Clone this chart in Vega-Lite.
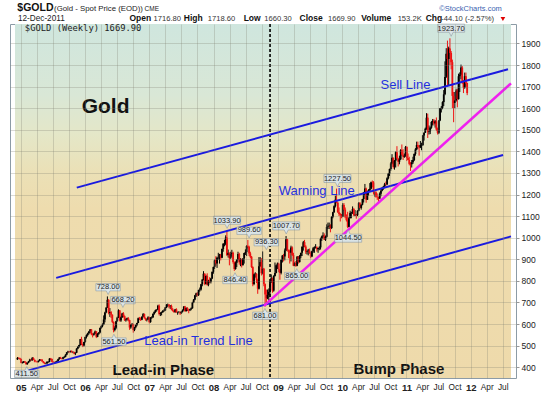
{
"$schema":"https://vega.github.io/schema/vega-lite/v6.json",
"width":506,"height":354,
"autosize":{"type":"none"},
"padding":{"left":10,"top":24,"right":34,"bottom":15},
"background":"#ffffff",
"config":{"view":{"stroke":"#8c9ba6","strokeWidth":1},"font":"Liberation Sans","axisY":{"tickCount":16,"labelOverlap":false,"format":"d"}},
"datasets":{
"bg":[{"d":"2004-11-29","d2":"2012-08-17","v":350,"v2":1990}],
"candles":[
{"d":"2004-12-13","o":436,"h":447,"l":434,"c":443},{"d":"2004-12-20","o":443,"h":446,"l":439,"c":442},{"d":"2004-12-27","o":442,"h":444,"l":434,"c":438},
{"d":"2005-01-03","o":438,"h":440,"l":418,"c":420},{"d":"2005-01-10","o":420,"h":426,"l":417,"c":422},{"d":"2005-01-17","o":422,"h":428,"l":419,"c":427},{"d":"2005-01-24","o":427,"h":429,"l":420,"c":422},{"d":"2005-01-31","o":422,"h":425,"l":412,"c":414},
{"d":"2005-02-07","o":414,"h":422,"l":411.5,"c":421},{"d":"2005-02-14","o":421,"h":429,"l":419,"c":427},{"d":"2005-02-21","o":427,"h":439,"l":425,"c":435},{"d":"2005-02-28","o":435,"h":437,"l":430,"c":432},
{"d":"2005-03-07","o":432,"h":447,"l":430,"c":443},{"d":"2005-03-14","o":443,"h":446,"l":433,"c":434},{"d":"2005-03-21","o":434,"h":436,"l":423,"c":427},{"d":"2005-03-28","o":427,"h":431,"l":423,"c":426},
{"d":"2005-04-04","o":426,"h":429,"l":420,"c":424},{"d":"2005-04-11","o":424,"h":431,"l":422,"c":430},{"d":"2005-04-18","o":430,"h":438,"l":428,"c":436},{"d":"2005-04-25","o":436,"h":438,"l":430,"c":435},
{"d":"2005-05-02","o":435,"h":437,"l":425,"c":427},{"d":"2005-05-09","o":427,"h":429,"l":418,"c":421},{"d":"2005-05-16","o":421,"h":423,"l":414,"c":418},{"d":"2005-05-23","o":418,"h":421,"l":414,"c":418},{"d":"2005-05-30","o":418,"h":427,"l":414,"c":425},
{"d":"2005-06-06","o":425,"h":428,"l":420,"c":425},{"d":"2005-06-13","o":425,"h":442,"l":423,"c":440},{"d":"2005-06-20","o":440,"h":443,"l":433,"c":438},{"d":"2005-06-27","o":438,"h":440,"l":423,"c":425},
{"d":"2005-07-04","o":425,"h":428,"l":417,"c":422},{"d":"2005-07-11","o":422,"h":426,"l":418,"c":421},{"d":"2005-07-18","o":421,"h":427,"l":418,"c":425},{"d":"2005-07-25","o":425,"h":431,"l":422,"c":429},
{"d":"2005-08-01","o":429,"h":439,"l":427,"c":437},{"d":"2005-08-08","o":437,"h":447,"l":435,"c":445},{"d":"2005-08-15","o":445,"h":448,"l":438,"c":441},{"d":"2005-08-22","o":441,"h":443,"l":436,"c":439},{"d":"2005-08-29","o":439,"h":448,"l":436,"c":446},
{"d":"2005-09-05","o":446,"h":452,"l":442,"c":448},{"d":"2005-09-12","o":448,"h":460,"l":446,"c":458},{"d":"2005-09-19","o":458,"h":470,"l":455,"c":469},{"d":"2005-09-26","o":469,"h":476,"l":465,"c":473},
{"d":"2005-10-03","o":473,"h":475,"l":467,"c":471},{"d":"2005-10-10","o":471,"h":477,"l":468,"c":474},{"d":"2005-10-17","o":474,"h":478,"l":467,"c":470},{"d":"2005-10-24","o":470,"h":474,"l":465,"c":470},{"d":"2005-10-31","o":470,"h":472,"l":460,"c":463},
{"d":"2005-11-07","o":463,"h":469,"l":456,"c":467},{"d":"2005-11-14","o":467,"h":488,"l":466,"c":486},{"d":"2005-11-21","o":486,"h":497,"l":483,"c":495},{"d":"2005-11-28","o":495,"h":504,"l":490,"c":503},
{"d":"2005-12-05","o":503,"h":531,"l":500,"c":530},{"d":"2005-12-12","o":530,"h":541,"l":502,"c":506},{"d":"2005-12-19","o":506,"h":509,"l":493,"c":501},{"d":"2005-12-26","o":501,"h":518,"l":496,"c":517},
{"d":"2006-01-02","o":517,"h":542,"l":514,"c":540},{"d":"2006-01-09","o":540,"h":552,"l":533,"c":549},{"d":"2006-01-16","o":549,"h":560,"l":543,"c":557},{"d":"2006-01-23","o":557,"h":568,"l":552,"c":566},{"d":"2006-01-30","o":566,"h":577,"l":558,"c":575},
{"d":"2006-02-06","o":575,"h":577,"l":548,"c":553},{"d":"2006-02-13","o":553,"h":558,"l":538,"c":550},{"d":"2006-02-20","o":550,"h":560,"l":546,"c":555},{"d":"2006-02-27","o":555,"h":570,"l":553,"c":566},
{"d":"2006-03-06","o":566,"h":567,"l":535,"c":541},{"d":"2006-03-13","o":541,"h":558,"l":539,"c":555},{"d":"2006-03-20","o":555,"h":562,"l":550,"c":561},{"d":"2006-03-27","o":561,"h":584,"l":557,"c":582},
{"d":"2006-04-03","o":582,"h":594,"l":578,"c":590},{"d":"2006-04-10","o":590,"h":603,"l":585,"c":598},{"d":"2006-04-17","o":598,"h":640,"l":597,"c":621},{"d":"2006-04-24","o":621,"h":657,"l":608,"c":654},
{"d":"2006-05-01","o":654,"h":678,"l":650,"c":676},{"d":"2006-05-08","o":676,"h":728,"l":675,"c":712},{"d":"2006-05-15","o":712,"h":715,"l":645,"c":651},{"d":"2006-05-22","o":651,"h":674,"l":633,"c":655},{"d":"2006-05-29","o":655,"h":660,"l":628,"c":643},
{"d":"2006-06-05","o":643,"h":645,"l":605,"c":610},{"d":"2006-06-12","o":610,"h":612,"l":561.5,"c":572},{"d":"2006-06-19","o":572,"h":590,"l":566,"c":583},{"d":"2006-06-26","o":583,"h":615,"l":576,"c":613},
{"d":"2006-07-03","o":613,"h":634,"l":611,"c":630},{"d":"2006-07-10","o":630,"h":668.2,"l":628,"c":663},{"d":"2006-07-17","o":663,"h":665,"l":612,"c":616},{"d":"2006-07-24","o":616,"h":636,"l":610,"c":632},{"d":"2006-07-31","o":632,"h":652,"l":628,"c":649},
{"d":"2006-08-07","o":649,"h":655,"l":630,"c":636},{"d":"2006-08-14","o":636,"h":640,"l":614,"c":618},{"d":"2006-08-21","o":618,"h":627,"l":611,"c":621},{"d":"2006-08-28","o":621,"h":630,"l":616,"c":627},
{"d":"2006-09-04","o":627,"h":632,"l":612,"c":618},{"d":"2006-09-11","o":618,"h":620,"l":573,"c":584},{"d":"2006-09-18","o":584,"h":600,"l":578,"c":598},{"d":"2006-09-25","o":598,"h":605,"l":592,"c":600},
{"d":"2006-10-02","o":600,"h":602,"l":560,"c":572},{"d":"2006-10-09","o":572,"h":587,"l":567,"c":585},{"d":"2006-10-16","o":585,"h":598,"l":580,"c":596},{"d":"2006-10-23","o":596,"h":606,"l":590,"c":605},{"d":"2006-10-30","o":605,"h":630,"l":604,"c":627},
{"d":"2006-11-06","o":627,"h":633,"l":618,"c":626},{"d":"2006-11-13","o":626,"h":631,"l":614,"c":620},{"d":"2006-11-20","o":620,"h":636,"l":618,"c":634},{"d":"2006-11-27","o":634,"h":651,"l":632,"c":646},
{"d":"2006-12-04","o":646,"h":649,"l":625,"c":627},{"d":"2006-12-11","o":627,"h":630,"l":615,"c":620},{"d":"2006-12-18","o":620,"h":626,"l":612,"c":621},{"d":"2006-12-25","o":621,"h":636,"l":618,"c":632},
{"d":"2007-01-01","o":632,"h":634,"l":603,"c":609},{"d":"2007-01-08","o":609,"h":632,"l":606,"c":630},{"d":"2007-01-15","o":630,"h":636,"l":624,"c":632},{"d":"2007-01-22","o":632,"h":650,"l":628,"c":647},{"d":"2007-01-29","o":647,"h":659,"l":643,"c":656},
{"d":"2007-02-05","o":656,"h":667,"l":652,"c":665},{"d":"2007-02-12","o":665,"h":669,"l":658,"c":666},{"d":"2007-02-19","o":666,"h":689,"l":664,"c":685},{"d":"2007-02-26","o":685,"h":691,"l":640,"c":647},
{"d":"2007-03-05","o":647,"h":655,"l":637,"c":651},{"d":"2007-03-12","o":651,"h":658,"l":640,"c":655},{"d":"2007-03-19","o":655,"h":665,"l":652,"c":661},{"d":"2007-03-26","o":661,"h":669,"l":657,"c":663},
{"d":"2007-04-02","o":663,"h":679,"l":661,"c":677},{"d":"2007-04-09","o":677,"h":692,"l":674,"c":690},{"d":"2007-04-16","o":690,"h":695,"l":680,"c":690},{"d":"2007-04-23","o":690,"h":692,"l":673,"c":682},{"d":"2007-04-30","o":682,"h":688,"l":670,"c":684},
{"d":"2007-05-07","o":684,"h":690,"l":664,"c":668},{"d":"2007-05-14","o":668,"h":674,"l":658,"c":660},{"d":"2007-05-21","o":660,"h":665,"l":652,"c":656},{"d":"2007-05-28","o":656,"h":670,"l":652,"c":668},
{"d":"2007-06-04","o":668,"h":673,"l":652,"c":655},{"d":"2007-06-11","o":655,"h":658,"l":643,"c":655},{"d":"2007-06-18","o":655,"h":660,"l":650,"c":655},{"d":"2007-06-25","o":655,"h":658,"l":642,"c":650},
{"d":"2007-07-02","o":650,"h":660,"l":647,"c":657},{"d":"2007-07-09","o":657,"h":668,"l":654,"c":664},{"d":"2007-07-16","o":664,"h":683,"l":662,"c":681},{"d":"2007-07-23","o":681,"h":684,"l":656,"c":660},{"d":"2007-07-30","o":660,"h":677,"l":658,"c":674},
{"d":"2007-08-06","o":674,"h":678,"l":660,"c":666},{"d":"2007-08-13","o":666,"h":669,"l":650,"c":664},{"d":"2007-08-20","o":664,"h":671,"l":660,"c":669},{"d":"2007-08-27","o":669,"h":677,"l":664,"c":673},
{"d":"2007-09-03","o":673,"h":703,"l":671,"c":700},{"d":"2007-09-10","o":700,"h":716,"l":697,"c":713},{"d":"2007-09-17","o":713,"h":735,"l":710,"c":733},{"d":"2007-09-24","o":733,"h":745,"l":725,"c":742},
{"d":"2007-10-01","o":742,"h":748,"l":728,"c":734},{"d":"2007-10-08","o":734,"h":759,"l":730,"c":757},{"d":"2007-10-15","o":757,"h":769,"l":750,"c":760},{"d":"2007-10-22","o":760,"h":786,"l":755,"c":784},{"d":"2007-10-29","o":784,"h":808,"l":775,"c":806},
{"d":"2007-11-05","o":806,"h":845,"l":802,"c":833},{"d":"2007-11-12","o":833,"h":835,"l":780,"c":786},{"d":"2007-11-19","o":786,"h":828,"l":783,"c":823},{"d":"2007-11-26","o":823,"h":835,"l":778,"c":782},
{"d":"2007-12-03","o":782,"h":805,"l":775,"c":800},{"d":"2007-12-10","o":800,"h":817,"l":790,"c":796},{"d":"2007-12-17","o":796,"h":814,"l":788,"c":811},{"d":"2007-12-24","o":811,"h":843,"l":808,"c":842},{"d":"2007-12-31","o":842,"h":866,"l":833,"c":864},
{"d":"2008-01-07","o":864,"h":899,"l":855,"c":895},{"d":"2008-01-14","o":895,"h":914,"l":870,"c":881},{"d":"2008-01-21","o":881,"h":912,"l":860,"c":907},{"d":"2008-01-28","o":907,"h":930,"l":898,"c":908},
{"d":"2008-02-04","o":908,"h":925,"l":880,"c":922},{"d":"2008-02-11","o":922,"h":925,"l":895,"c":907},{"d":"2008-02-18","o":907,"h":950,"l":905,"c":948},{"d":"2008-02-25","o":948,"h":975,"l":935,"c":972},
{"d":"2008-03-03","o":972,"h":990,"l":960,"c":972},{"d":"2008-03-10","o":972,"h":1011,"l":965,"c":1001},{"d":"2008-03-17","o":1001,"h":1033.9,"l":915,"c":920},{"d":"2008-03-24","o":920,"h":945,"l":908,"c":930},{"d":"2008-03-31","o":930,"h":932,"l":872,"c":905},
{"d":"2008-04-07","o":905,"h":935,"l":902,"c":925},{"d":"2008-04-14","o":925,"h":944,"l":912,"c":930},{"d":"2008-04-21","o":930,"h":935,"l":880,"c":887},{"d":"2008-04-28","o":887,"h":890,"l":846.4,"c":855},
{"d":"2008-05-05","o":855,"h":890,"l":852,"c":884},{"d":"2008-05-12","o":884,"h":900,"l":864,"c":898},{"d":"2008-05-19","o":898,"h":935,"l":895,"c":925},{"d":"2008-05-26","o":925,"h":930,"l":875,"c":886},
{"d":"2008-06-02","o":886,"h":905,"l":868,"c":900},{"d":"2008-06-09","o":900,"h":903,"l":862,"c":873},{"d":"2008-06-16","o":873,"h":905,"l":870,"c":904},{"d":"2008-06-23","o":904,"h":930,"l":880,"c":929},{"d":"2008-06-30","o":929,"h":946,"l":920,"c":933},
{"d":"2008-07-07","o":933,"h":965,"l":915,"c":962},{"d":"2008-07-14","o":962,"h":989.6,"l":950,"c":958},{"d":"2008-07-21","o":958,"h":963,"l":915,"c":927},{"d":"2008-07-28","o":927,"h":935,"l":905,"c":912},
{"d":"2008-08-04","o":912,"h":915,"l":860,"c":864},{"d":"2008-08-11","o":864,"h":868,"l":775,"c":785},{"d":"2008-08-18","o":785,"h":835,"l":780,"c":831},{"d":"2008-08-25","o":831,"h":840,"l":815,"c":833},
{"d":"2008-09-01","o":833,"h":835,"l":790,"c":805},{"d":"2008-09-08","o":805,"h":810,"l":740,"c":764},{"d":"2008-09-15","o":764,"h":910,"l":760,"c":868},{"d":"2008-09-22","o":868,"h":910,"l":865,"c":887},{"d":"2008-09-29","o":887,"h":905,"l":825,"c":835},
{"d":"2008-10-06","o":835,"h":936.3,"l":830,"c":856},{"d":"2008-10-13","o":856,"h":860,"l":775,"c":785},{"d":"2008-10-20","o":785,"h":788,"l":681,"c":737},{"d":"2008-10-27","o":737,"h":760,"l":700,"c":719},
{"d":"2008-11-03","o":719,"h":760,"l":715,"c":735},{"d":"2008-11-10","o":735,"h":765,"l":705,"c":749},{"d":"2008-11-17","o":749,"h":800,"l":725,"c":797},{"d":"2008-11-24","o":797,"h":830,"l":790,"c":814},
{"d":"2008-12-01","o":814,"h":815,"l":745,"c":755},{"d":"2008-12-08","o":755,"h":826,"l":750,"c":823},{"d":"2008-12-15","o":823,"h":885,"l":820,"c":837},{"d":"2008-12-22","o":837,"h":875,"l":835,"c":872},{"d":"2008-12-29","o":872,"h":885,"l":855,"c":880},
{"d":"2009-01-05","o":880,"h":884,"l":840,"c":853},{"d":"2009-01-12","o":853,"h":855,"l":805,"c":837},{"d":"2009-01-19","o":837,"h":900,"l":830,"c":897},{"d":"2009-01-26","o":897,"h":920,"l":885,"c":917},
{"d":"2009-02-02","o":917,"h":925,"l":890,"c":913},{"d":"2009-02-09","o":913,"h":950,"l":895,"c":941},{"d":"2009-02-16","o":941,"h":1007.7,"l":940,"c":993},{"d":"2009-02-23","o":993,"h":995,"l":935,"c":942},
{"d":"2009-03-02","o":942,"h":945,"l":905,"c":940},{"d":"2009-03-09","o":940,"h":945,"l":880,"c":930},{"d":"2009-03-16","o":930,"h":963,"l":890,"c":955},{"d":"2009-03-23","o":955,"h":960,"l":915,"c":920},{"d":"2009-03-30","o":920,"h":930,"l":868,"c":870},
{"d":"2009-04-06","o":870,"h":888,"l":868,"c":882},{"d":"2009-04-13","o":882,"h":892,"l":865,"c":870},{"d":"2009-04-20","o":870,"h":915,"l":868,"c":912},{"d":"2009-04-27","o":912,"h":915,"l":880,"c":887},
{"d":"2009-05-04","o":887,"h":920,"l":885,"c":915},{"d":"2009-05-11","o":915,"h":930,"l":905,"c":930},{"d":"2009-05-18","o":930,"h":960,"l":915,"c":958},{"d":"2009-05-25","o":958,"h":985,"l":940,"c":979},
{"d":"2009-06-01","o":979,"h":990,"l":955,"c":959},{"d":"2009-06-08","o":959,"h":965,"l":925,"c":935},{"d":"2009-06-15","o":935,"h":945,"l":922,"c":937},{"d":"2009-06-22","o":937,"h":948,"l":918,"c":940},{"d":"2009-06-29","o":940,"h":950,"l":925,"c":929},
{"d":"2009-07-06","o":929,"h":935,"l":905,"c":913},{"d":"2009-07-13","o":913,"h":940,"l":910,"c":937},{"d":"2009-07-20","o":937,"h":957,"l":930,"c":951},{"d":"2009-07-27","o":951,"h":960,"l":930,"c":954},
{"d":"2009-08-03","o":954,"h":970,"l":950,"c":956},{"d":"2009-08-10","o":956,"h":960,"l":935,"c":947},{"d":"2009-08-17","o":947,"h":952,"l":930,"c":952},{"d":"2009-08-24","o":952,"h":960,"l":942,"c":955},{"d":"2009-08-31","o":955,"h":1000,"l":945,"c":995},
{"d":"2009-09-07","o":995,"h":1010,"l":985,"c":1006},{"d":"2009-09-14","o":1006,"h":1025,"l":998,"c":1010},{"d":"2009-09-21","o":1010,"h":1020,"l":990,"c":991},{"d":"2009-09-28","o":991,"h":1010,"l":985,"c":1004},
{"d":"2009-10-05","o":1004,"h":1062,"l":1000,"c":1050},{"d":"2009-10-12","o":1050,"h":1070,"l":1040,"c":1052},{"d":"2009-10-19","o":1052,"h":1070,"l":1040,"c":1056},{"d":"2009-10-26","o":1056,"h":1062,"l":1025,"c":1045},
{"d":"2009-11-02","o":1045,"h":1100,"l":1040,"c":1096},{"d":"2009-11-09","o":1096,"h":1120,"l":1090,"c":1118},{"d":"2009-11-16","o":1118,"h":1150,"l":1115,"c":1146},{"d":"2009-11-23","o":1146,"h":1195,"l":1140,"c":1176},{"d":"2009-11-30","o":1176,"h":1227.5,"l":1160,"c":1162},
{"d":"2009-12-07","o":1162,"h":1165,"l":1115,"c":1118},{"d":"2009-12-14","o":1118,"h":1140,"l":1100,"c":1110},{"d":"2009-12-21","o":1110,"h":1115,"l":1075,"c":1105},{"d":"2009-12-28","o":1105,"h":1110,"l":1090,"c":1097},
{"d":"2010-01-04","o":1097,"h":1160,"l":1095,"c":1152},{"d":"2010-01-11","o":1152,"h":1160,"l":1125,"c":1130},{"d":"2010-01-18","o":1130,"h":1140,"l":1090,"c":1095},{"d":"2010-01-25","o":1095,"h":1108,"l":1075,"c":1081},
{"d":"2010-02-01","o":1081,"h":1120,"l":1044.5,"c":1050},{"d":"2010-02-08","o":1050,"h":1095,"l":1048,"c":1090},{"d":"2010-02-15","o":1090,"h":1125,"l":1090,"c":1115},{"d":"2010-02-22","o":1115,"h":1120,"l":1090,"c":1117},
{"d":"2010-03-01","o":1117,"h":1145,"l":1110,"c":1133},{"d":"2010-03-08","o":1133,"h":1138,"l":1100,"c":1104},{"d":"2010-03-15","o":1104,"h":1128,"l":1100,"c":1106},{"d":"2010-03-22","o":1106,"h":1110,"l":1088,"c":1105},{"d":"2010-03-29","o":1105,"h":1127,"l":1100,"c":1125},
{"d":"2010-04-05","o":1125,"h":1165,"l":1122,"c":1160},{"d":"2010-04-12","o":1160,"h":1165,"l":1135,"c":1138},{"d":"2010-04-19","o":1138,"h":1155,"l":1130,"c":1153},{"d":"2010-04-26","o":1153,"h":1180,"l":1150,"c":1179},
{"d":"2010-05-03","o":1179,"h":1212,"l":1163,"c":1210},{"d":"2010-05-10","o":1210,"h":1249,"l":1195,"c":1228},{"d":"2010-05-17","o":1228,"h":1232,"l":1162,"c":1176},{"d":"2010-05-24","o":1176,"h":1218,"l":1175,"c":1213},{"d":"2010-05-31","o":1213,"h":1225,"l":1195,"c":1219},
{"d":"2010-06-07","o":1219,"h":1253,"l":1212,"c":1227},{"d":"2010-06-14","o":1227,"h":1260,"l":1224,"c":1257},{"d":"2010-06-21","o":1257,"h":1265,"l":1233,"c":1256},{"d":"2010-06-28","o":1256,"h":1262,"l":1200,"c":1210},
{"d":"2010-07-05","o":1210,"h":1215,"l":1190,"c":1210},{"d":"2010-07-12","o":1210,"h":1215,"l":1185,"c":1190},{"d":"2010-07-19","o":1190,"h":1205,"l":1175,"c":1189},{"d":"2010-07-26","o":1189,"h":1190,"l":1157,"c":1181},
{"d":"2010-08-02","o":1181,"h":1210,"l":1180,"c":1204},{"d":"2010-08-09","o":1204,"h":1225,"l":1192,"c":1218},{"d":"2010-08-16","o":1218,"h":1235,"l":1215,"c":1227},{"d":"2010-08-23","o":1227,"h":1240,"l":1222,"c":1237},{"d":"2010-08-30","o":1237,"h":1254,"l":1230,"c":1247},
{"d":"2010-09-06","o":1247,"h":1260,"l":1240,"c":1246},{"d":"2010-09-13","o":1246,"h":1280,"l":1245,"c":1275},{"d":"2010-09-20","o":1275,"h":1300,"l":1270,"c":1297},{"d":"2010-09-27","o":1297,"h":1320,"l":1286,"c":1318},
{"d":"2010-10-04","o":1318,"h":1350,"l":1310,"c":1344},{"d":"2010-10-11","o":1344,"h":1387,"l":1340,"c":1370},{"d":"2010-10-18","o":1370,"h":1372,"l":1320,"c":1328},{"d":"2010-10-25","o":1328,"h":1360,"l":1315,"c":1357},
{"d":"2010-11-01","o":1357,"h":1400,"l":1325,"c":1396},{"d":"2010-11-08","o":1396,"h":1424,"l":1362,"c":1367},{"d":"2010-11-15","o":1367,"h":1370,"l":1330,"c":1352},{"d":"2010-11-22","o":1352,"h":1380,"l":1340,"c":1363},{"d":"2010-11-29","o":1363,"h":1410,"l":1360,"c":1405},
{"d":"2010-12-06","o":1405,"h":1432,"l":1380,"c":1384},{"d":"2010-12-13","o":1384,"h":1410,"l":1360,"c":1375},{"d":"2010-12-20","o":1375,"h":1390,"l":1370,"c":1380},{"d":"2010-12-27","o":1380,"h":1425,"l":1375,"c":1420},
{"d":"2011-01-03","o":1420,"h":1424,"l":1355,"c":1369},{"d":"2011-01-10","o":1369,"h":1390,"l":1360,"c":1360},{"d":"2011-01-17","o":1360,"h":1375,"l":1335,"c":1342},{"d":"2011-01-24","o":1342,"h":1350,"l":1309,"c":1340},{"d":"2011-01-31","o":1340,"h":1360,"l":1325,"c":1349},
{"d":"2011-02-07","o":1349,"h":1375,"l":1342,"c":1360},{"d":"2011-02-14","o":1360,"h":1390,"l":1355,"c":1388},{"d":"2011-02-21","o":1388,"h":1415,"l":1380,"c":1409},{"d":"2011-02-28","o":1409,"h":1445,"l":1405,"c":1429},
{"d":"2011-03-07","o":1429,"h":1445,"l":1410,"c":1420},{"d":"2011-03-14","o":1420,"h":1430,"l":1380,"c":1418},{"d":"2011-03-21","o":1418,"h":1448,"l":1415,"c":1429},{"d":"2011-03-28","o":1429,"h":1440,"l":1405,"c":1429},
{"d":"2011-04-04","o":1429,"h":1476,"l":1425,"c":1474},{"d":"2011-04-11","o":1474,"h":1488,"l":1450,"c":1486},{"d":"2011-04-18","o":1486,"h":1510,"l":1485,"c":1505},{"d":"2011-04-25","o":1505,"h":1577,"l":1500,"c":1556},
{"d":"2011-05-02","o":1556,"h":1575,"l":1462,"c":1491},{"d":"2011-05-09","o":1491,"h":1520,"l":1478,"c":1493},{"d":"2011-05-16","o":1493,"h":1515,"l":1480,"c":1510},{"d":"2011-05-23","o":1510,"h":1540,"l":1505,"c":1536},{"d":"2011-05-30","o":1536,"h":1550,"l":1520,"c":1542},
{"d":"2011-06-06","o":1542,"h":1550,"l":1520,"c":1529},{"d":"2011-06-13","o":1529,"h":1545,"l":1510,"c":1539},{"d":"2011-06-20","o":1539,"h":1557,"l":1495,"c":1501},{"d":"2011-06-27","o":1501,"h":1510,"l":1478,"c":1486},
{"d":"2011-07-04","o":1486,"h":1545,"l":1480,"c":1543},{"d":"2011-07-11","o":1543,"h":1600,"l":1540,"c":1601},{"d":"2011-07-18","o":1601,"h":1610,"l":1580,"c":1602},{"d":"2011-07-25","o":1602,"h":1632,"l":1595,"c":1628},
{"d":"2011-08-01","o":1628,"h":1684,"l":1610,"c":1664},{"d":"2011-08-08","o":1664,"h":1817,"l":1660,"c":1745},{"d":"2011-08-15","o":1745,"h":1878,"l":1740,"c":1852},{"d":"2011-08-22","o":1852,"h":1913,"l":1702,"c":1828},{"d":"2011-08-29","o":1828,"h":1885,"l":1705,"c":1877},
{"d":"2011-09-05","o":1877,"h":1923.7,"l":1800,"c":1856},{"d":"2011-09-12","o":1856,"h":1865,"l":1780,"c":1813},{"d":"2011-09-19","o":1813,"h":1825,"l":1600,"c":1657},{"d":"2011-09-26","o":1657,"h":1675,"l":1535,"c":1624},
{"d":"2011-10-03","o":1624,"h":1675,"l":1600,"c":1636},{"d":"2011-10-10","o":1636,"h":1690,"l":1630,"c":1682},{"d":"2011-10-17","o":1682,"h":1690,"l":1604,"c":1642},{"d":"2011-10-24","o":1642,"h":1760,"l":1640,"c":1748},{"d":"2011-10-31","o":1748,"h":1766,"l":1675,"c":1755},
{"d":"2011-11-07","o":1755,"h":1802,"l":1735,"c":1788},{"d":"2011-11-14","o":1788,"h":1795,"l":1712,"c":1723},{"d":"2011-11-21","o":1723,"h":1730,"l":1670,"c":1695},{"d":"2011-11-28","o":1695,"h":1765,"l":1690,"c":1748},
{"d":"2011-12-05","o":1748,"h":1765,"l":1700,"c":1714},{"d":"2011-12-12","o":1716.8,"h":1718.6,"l":1660.3,"c":1669.9}
],
"channel":[
{"d":"2005-11-15","v":1232,"d2":"2012-07-31","v2":1780},
{"d":"2005-07-21","v":814,"d2":"2012-07-03","v2":1383},
{"d":"2004-11-29","v":368,"d2":"2012-08-17","v2":1006}
],
"bump":[{"d":"2008-10-13","v":684,"d2":"2012-08-17","v2":1715}],
"phase":[{"d":"2008-11-17"}],
"hiLabels":[{"d":"2006-05-12","v":728},{"d":"2006-08-04","v":668.2},{"d":"2008-03-18","v":1033.9},{"d":"2008-07-21","v":989.6},{"d":"2008-10-27","v":936.3},{"d":"2009-02-17","v":1007.7},{"d":"2009-12-05","v":1227.5},{"d":"2011-09-12","v":1923.7}],
"loLabels":[{"d":"2005-02-04","v":411.5},{"d":"2006-06-14","v":561.5},{"d":"2008-05-02","v":846.4},{"d":"2008-10-19","v":681},{"d":"2009-04-18","v":865},{"d":"2010-02-04","v":1044.5}],
"blueNotes":[{"d":"2010-08-07","v":1691,"t":"Sell Line"},{"d":"2009-01-05","v":1199,"t":"Warning Line"},{"d":"2006-12-04","v":501,"t":"Lead-in Trend Line"}],
"bigNote":[{"d":"2005-12-13","v":1577,"t":"Gold"}],
"phaseNotes":[{"d":"2006-06-06","v":365,"t":"Lead-in Phase"},{"d":"2010-03-06","v":369,"t":"Bump Phase"}],
"hdrSym":[{"d":"2004-12-12","v":2049,"t":"$GOLD"}],
"hdrName":[{"d":"2005-07-09","v":2049,"t":"(Gold - Spot Price (EOD))"}],
"hdrExch":[{"d":"2006-12-05","v":2049,"t":"CME"}],
"hdrSite":[{"d":"2012-06-26","v":2050,"t":"©StockCharts.com"}],
"hdrDate":[{"d":"2004-12-16","v":2003,"t":"12-Dec-2011"}],
"hdrKeys":[{"d":"2006-09-10","v":2003,"t":"Open"},{"d":"2007-07-16","v":2003,"t":"High"},{"d":"2008-06-20","v":2003,"t":"Low"},{"d":"2009-05-04","v":2003,"t":"Close"},{"d":"2010-04-19","v":2003,"t":"Volume"},{"d":"2011-04-20","v":2003,"t":"Chg"}],
"hdrVals":[{"d":"2007-01-25","v":2003,"t":"1716.80"},{"d":"2007-11-29","v":2003,"t":"1718.60"},{"d":"2008-10-15","v":2003,"t":"1660.30"},{"d":"2009-10-12","v":2003,"t":"1669.90"},{"d":"2010-11-12","v":2003,"t":"153.2K"},{"d":"2011-07-18","v":2003,"t":"-44.10 (-2.57%)"}],
"hdrArrow":[{"d":"2012-07-02","v":2013.5}],
"legend":[{"d":"2005-01-24","v":1957,"t":"$GOLD (Weekly) 1669.90"}]
},
"layer":[
{"data":{"name":"bg"},
"mark":{"type":"rect","fill":{"gradient":"linear","x1":0,"y1":0,"x2":0,"y2":1,"stops":[{"offset":0,"color":"#cfe6de"},{"offset":0.2,"color":"#d9e7d6"},{"offset":0.31,"color":"#e4e7c8"},{"offset":0.42,"color":"#ebe0b6"},{"offset":0.52,"color":"#eedcae"},{"offset":1,"color":"#eedaab"}]}},
"encoding":{
"x":{"field":"d","type":"temporal",
"scale":{"type":"utc","domain":[{"year":2004,"month":11,"date":29,"utc":true},{"year":2012,"month":8,"date":17,"utc":true}]},
"axis":{"orient":"bottom","title":null,"grid":true,"gridColor":"#7f7f6f","gridOpacity":0.28,"domain":false,"ticks":false,"labelPadding":4,"labelFont":"Liberation Sans","labelColor":"#222222",
"tickCount":{"interval":"month","step":3},
"labelExpr":"utcmonth(datum.value)==0 ? utcFormat(datum.value,'%y') : utcFormat(datum.value,'%b')",
"labelFontWeight":{"condition":{"test":"utcmonth(datum.value)==0","value":"bold"},"value":"normal"},
"labelFontSize":{"condition":{"test":"utcmonth(datum.value)==0","value":9.5},"value":8.3},
"labelOverlap":false,"labelFlush":false,"labelBound":false,"zindex":1}},
"x2":{"field":"d2"},
"y":{"field":"v","type":"quantitative","scale":{"domain":[350,1990],"nice":false,"zero":false},
"axis":{"orient":"right","title":null,"values":[400,500,600,700,800,900,1000,1100,1200,1300,1400,1500,1600,1700,1800,1900],"tickCount":16,"format":"d","labelOverlap":false,"grid":true,"gridColor":"#7f7f6f","gridOpacity":0.28,"domain":false,"ticks":true,"tickSize":3,"tickColor":"#999999","labelPadding":2,"labelFont":"Liberation Sans","labelFontSize":8.5,"labelColor":"#222222","zindex":1}},
"y2":{"field":"v2"}}},
{"data":{"name":"candles"},"mark":{"type":"rule","strokeWidth":1},
"encoding":{"x":{"field":"d","type":"temporal","scale":{"type":"utc"},"axis":{"title":null}},"y":{"field":"l","type":"quantitative","axis":{"title":null}},"y2":{"field":"h"},
"color":{"condition":{"test":"datum.c < datum.o","value":"#ee1111"},"value":"#000000"}}},
{"data":{"name":"candles"},"mark":{"type":"bar","size":1.8},
"encoding":{"x":{"field":"d","type":"temporal","scale":{"type":"utc"},"axis":{"title":null}},"y":{"field":"o","type":"quantitative","axis":{"title":null}},"y2":{"field":"c"},
"color":{"condition":{"test":"datum.c < datum.o","value":"#ee1111"},"value":"#000000"}}},
{"data":{"name":"phase"},"mark":{"type":"rule","color":"#000000","strokeWidth":1.6,"strokeDash":[3,2]},
"encoding":{"x":{"field":"d","type":"temporal","scale":{"type":"utc"},"axis":{"title":null}}}},
{"data":{"name":"channel"},"mark":{"type":"rule","color":"#1a1ae0","strokeWidth":2},
"encoding":{"x":{"field":"d","type":"temporal","scale":{"type":"utc"},"axis":{"title":null}},"x2":{"field":"d2"},"y":{"field":"v","type":"quantitative","axis":{"title":null}},"y2":{"field":"v2"}}},
{"data":{"name":"bump"},"mark":{"type":"rule","color":"#f020f0","strokeWidth":2.5},
"encoding":{"x":{"field":"d","type":"temporal","scale":{"type":"utc"},"axis":{"title":null}},"x2":{"field":"d2"},"y":{"field":"v","type":"quantitative","axis":{"title":null}},"y2":{"field":"v2"}}},
{"data":{"name":"hiLabels"},"mark":{"type":"point","shape":"M-1,-1.05H1V-0.45H0.15L0,-0.15L-0.15,-0.45H-1Z","filled":true,"fill":"#dae4e6","stroke":"#8e9ba2","strokeWidth":0.6,"opacity":1},
"encoding":{"x":{"field":"d","type":"temporal","scale":{"type":"utc"},"axis":{"title":null}},"y":{"field":"v","type":"quantitative","axis":{"title":null}},
"size":{"condition":{"test":"datum.v >= 1000","value":729},"value":600}}},
{"data":{"name":"hiLabels"},"mark":{"type":"text","font":"Liberation Sans","fontSize":7.5,"color":"#222222","baseline":"middle","align":"center","dy":-9.6},
"encoding":{"x":{"field":"d","type":"temporal","scale":{"type":"utc"},"axis":{"title":null}},"y":{"field":"v","type":"quantitative","axis":{"title":null}},"text":{"field":"v","format":".2f"}}},
{"data":{"name":"loLabels"},"mark":{"type":"point","shape":"M-1,0.45H-0.15L0,0.15L0.15,0.45H1V1.05H-1Z","filled":true,"fill":"#dae4e6","stroke":"#8e9ba2","strokeWidth":0.6,"opacity":1},
"encoding":{"x":{"field":"d","type":"temporal","scale":{"type":"utc"},"axis":{"title":null}},"y":{"field":"v","type":"quantitative","axis":{"title":null}},
"size":{"condition":{"test":"datum.v >= 1000","value":729},"value":600}}},
{"data":{"name":"loLabels"},"mark":{"type":"text","font":"Liberation Sans","fontSize":7.5,"color":"#222222","baseline":"middle","align":"center","dy":9.6},
"encoding":{"x":{"field":"d","type":"temporal","scale":{"type":"utc"},"axis":{"title":null}},"y":{"field":"v","type":"quantitative","axis":{"title":null}},"text":{"field":"v","format":".2f"}}},
{"data":{"name":"blueNotes"},"mark":{"type":"text","font":"Liberation Sans","fontSize":13,"color":"#1f2fe0","baseline":"alphabetic","align":"left"},
"encoding":{"x":{"field":"d","type":"temporal","scale":{"type":"utc"},"axis":{"title":null}},"y":{"field":"v","type":"quantitative","axis":{"title":null}},"text":{"field":"t"}}},
{"data":{"name":"bigNote"},"mark":{"type":"text","font":"Liberation Sans","fontSize":21,"fontWeight":"bold","color":"#111111","baseline":"alphabetic","align":"left"},
"encoding":{"x":{"field":"d","type":"temporal","scale":{"type":"utc"},"axis":{"title":null}},"y":{"field":"v","type":"quantitative","axis":{"title":null}},"text":{"field":"t"}}},
{"data":{"name":"phaseNotes"},"mark":{"type":"text","font":"Liberation Sans","fontSize":15,"fontWeight":"bold","color":"#111111","baseline":"alphabetic","align":"left"},
"encoding":{"x":{"field":"d","type":"temporal","scale":{"type":"utc"},"axis":{"title":null}},"y":{"field":"v","type":"quantitative","axis":{"title":null}},"text":{"field":"t"}}},
{"data":{"name":"hdrSym"},"mark":{"type":"text","font":"Liberation Sans","fontSize":10.5,"fontWeight":"bold","color":"#111111","baseline":"alphabetic","align":"left"},
"encoding":{"x":{"field":"d","type":"temporal","scale":{"type":"utc"},"axis":{"title":null}},"y":{"field":"v","type":"quantitative","axis":{"title":null}},"text":{"field":"t"}}},
{"data":{"name":"hdrName"},"mark":{"type":"text","font":"Liberation Sans","fontSize":7.8,"color":"#222222","baseline":"alphabetic","align":"left"},
"encoding":{"x":{"field":"d","type":"temporal","scale":{"type":"utc"},"axis":{"title":null}},"y":{"field":"v","type":"quantitative","axis":{"title":null}},"text":{"field":"t"}}},
{"data":{"name":"hdrExch"},"mark":{"type":"text","font":"Liberation Sans","fontSize":6.5,"color":"#222222","baseline":"alphabetic","align":"left"},
"encoding":{"x":{"field":"d","type":"temporal","scale":{"type":"utc"},"axis":{"title":null}},"y":{"field":"v","type":"quantitative","axis":{"title":null}},"text":{"field":"t"}}},
{"data":{"name":"hdrSite"},"mark":{"type":"text","font":"Liberation Sans","fontSize":7.5,"color":"#3a5fb0","baseline":"alphabetic","align":"right"},
"encoding":{"x":{"field":"d","type":"temporal","scale":{"type":"utc"},"axis":{"title":null}},"y":{"field":"v","type":"quantitative","axis":{"title":null}},"text":{"field":"t"}}},
{"data":{"name":"hdrDate"},"mark":{"type":"text","font":"Liberation Sans","fontSize":8.2,"color":"#222222","baseline":"alphabetic","align":"left"},
"encoding":{"x":{"field":"d","type":"temporal","scale":{"type":"utc"},"axis":{"title":null}},"y":{"field":"v","type":"quantitative","axis":{"title":null}},"text":{"field":"t"}}},
{"data":{"name":"hdrKeys"},"mark":{"type":"text","font":"Liberation Sans","fontSize":8.5,"fontWeight":"bold","color":"#111111","baseline":"alphabetic","align":"left"},
"encoding":{"x":{"field":"d","type":"temporal","scale":{"type":"utc"},"axis":{"title":null}},"y":{"field":"v","type":"quantitative","axis":{"title":null}},"text":{"field":"t"}}},
{"data":{"name":"hdrVals"},"mark":{"type":"text","font":"Liberation Sans","fontSize":7.6,"color":"#333333","baseline":"alphabetic","align":"left"},
"encoding":{"x":{"field":"d","type":"temporal","scale":{"type":"utc"},"axis":{"title":null}},"y":{"field":"v","type":"quantitative","axis":{"title":null}},"text":{"field":"t"}}},
{"data":{"name":"hdrArrow"},"mark":{"type":"point","shape":"triangle-down","filled":true,"color":"#e00000","size":22,"opacity":1},
"encoding":{"x":{"field":"d","type":"temporal","scale":{"type":"utc"},"axis":{"title":null}},"y":{"field":"v","type":"quantitative","axis":{"title":null}}}},
{"data":{"name":"legend"},"mark":{"type":"text","font":"DejaVu Sans Mono","fontSize":8.8,"color":"#222222","baseline":"alphabetic","align":"left"},
"encoding":{"x":{"field":"d","type":"temporal","scale":{"type":"utc"},"axis":{"title":null}},"y":{"field":"v","type":"quantitative","axis":{"title":null}},"text":{"field":"t"}}}
]
}
